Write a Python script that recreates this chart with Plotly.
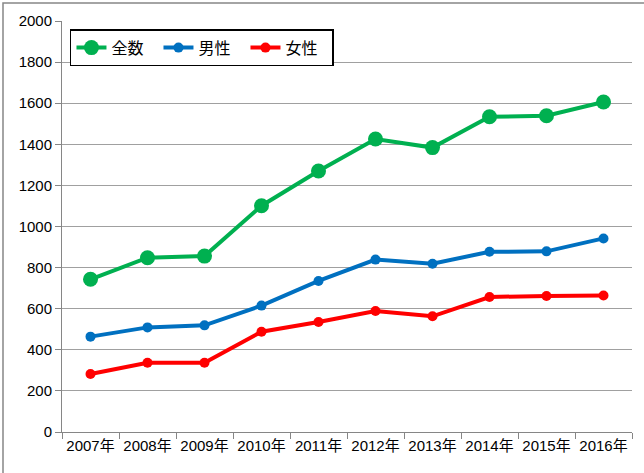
import plotly.graph_objects as go

years = ["2007年", "2008年", "2009年", "2010年", "2011年", "2012年", "2013年", "2014年", "2015年", "2016年"]
total = [743, 848, 856, 1101, 1270, 1426, 1384, 1534, 1539, 1606]
male = [464, 509, 519, 615, 735, 839, 819, 877, 879, 942]
female = [282, 337, 337, 488, 535, 589, 563, 657, 662, 664]
series_names = ["全数", "男性", "女性"]
y_ticks = [0, 200, 400, 600, 800, 1000, 1200, 1400, 1600, 1800, 2000]

FONT = "Liberation Sans, Noto Sans CJK JP, sans-serif"

fig = go.Figure()
fig.add_trace(go.Scatter(x=years, y=total, name=series_names[0], mode="lines+markers",
                         line=dict(color="#00B050", width=4), marker=dict(size=15, color="#00B050")))
fig.add_trace(go.Scatter(x=years, y=male, name=series_names[1], mode="lines+markers",
                         line=dict(color="#0070C0", width=4), marker=dict(size=10, color="#0070C0")))
fig.add_trace(go.Scatter(x=years, y=female, name=series_names[2], mode="lines+markers",
                         line=dict(color="#FF0000", width=4), marker=dict(size=10, color="#FF0000")))

fig.update_layout(
    width=644, height=473,
    margin=dict(l=62, r=12, t=21, b=41, autoexpand=False),
    paper_bgcolor="white", plot_bgcolor="white",
    font=dict(family=FONT, size=15, color="black"),
    showlegend=True,
    legend=dict(orientation="h", x=0.014, y=0.98, xanchor="left", yanchor="top",
                bgcolor="white", bordercolor="black", borderwidth=1.5,
                font=dict(family=FONT, size=16, color="black"),
                entrywidth=42, tracegroupgap=0),
    xaxis=dict(type="category", tickson="boundaries", ticks="outside", ticklen=6,
               tickcolor="#868686", showline=True, linecolor="#868686", linewidth=1,
               showgrid=False, range=[-0.5, 9.5], tickangle=0, automargin=False,
               tickfont=dict(size=15)),
    yaxis=dict(range=[0, 2000], tickvals=y_ticks, ticks="outside", ticklen=6,
               tickcolor="#868686", showline=True, linecolor="#868686", linewidth=1,
               showgrid=True, gridcolor="#A0A0A0", gridwidth=1, zeroline=False,
               automargin=False, tickfont=dict(size=15)),
)

fig.add_shape(type="rect", xref="paper", yref="paper",
              x0=(3 - 62) / 570, x1=(645 - 62) / 570,
              y0=(432 - 476) / 411, y1=(432 - 3) / 411,
              line=dict(color="#868686", width=1.5), fillcolor="rgba(0,0,0,0)", layer="above")

fig.write_html("out.html", config={"displayModeBar": False},
               post_script="document.body.style.margin='0';")
